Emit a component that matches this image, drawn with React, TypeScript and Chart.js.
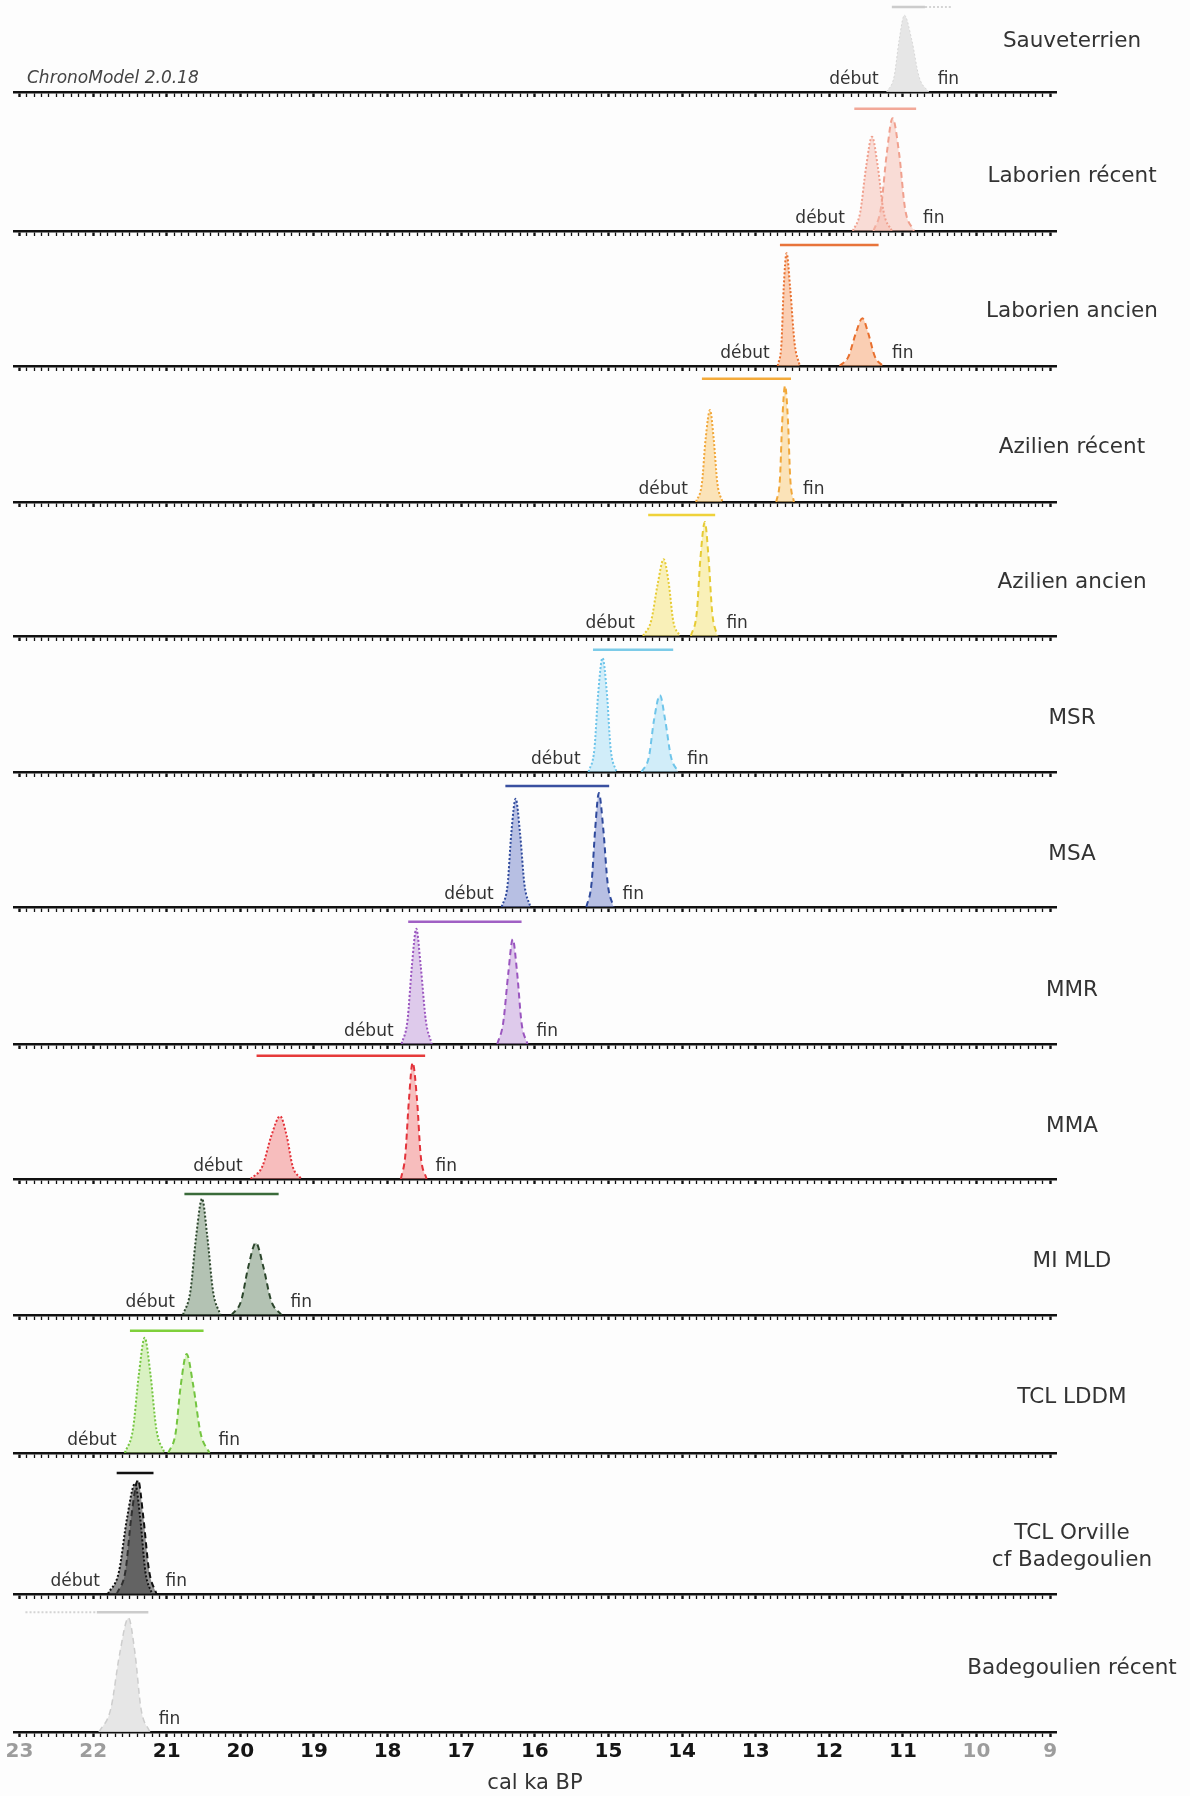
import React, { useEffect, useRef } from 'react';
import { Chart, registerables } from 'chart.js';

Chart.register(...registerables);
Chart.defaults.font.family = '"DejaVu Sans", sans-serif';

type Pt = [number, number];

// ---------- DATA ----------
const phaseNames: string[][] = [
  ['Sauveterrien'],
  ['Laborien récent'],
  ['Laborien ancien'],
  ['Azilien récent'],
  ['Azilien ancien'],
  ['MSR'],
  ['MSA'],
  ['MMR'],
  ['MMA'],
  ['MI MLD'],
  ['TCL LDDM'],
  ['TCL Orville', 'cf Badegoulien'],
  ['Badegoulien récent'],
];

// density of the "début" (start) of each phase: [cal ka BP, relative density]
const debutCurves: (Pt[] | null)[] = [
  [[11.22, 0], [11.12, 0.13], [11.05, 0.45], [10.98, 0.66], [10.88, 0.45], [10.78, 0.13], [10.65, 0]],
  [[11.68, 0], [11.58, 0.16], [11.5, 0.55], [11.42, 0.81], [11.34, 0.55], [11.26, 0.16], [11.15, 0]],
  [[12.7, 0], [12.65, 0.19], [12.62, 0.66], [12.58, 0.97], [12.53, 0.66], [12.47, 0.19], [12.4, 0]],
  [[13.81, 0], [13.73, 0.16], [13.68, 0.54], [13.62, 0.79], [13.57, 0.54], [13.52, 0.16], [13.45, 0]],
  [[14.53, 0], [14.42, 0.13], [14.33, 0.45], [14.25, 0.66], [14.18, 0.45], [14.12, 0.13], [14.03, 0]],
  [[15.27, 0], [15.19, 0.2], [15.14, 0.67], [15.08, 0.98], [15.02, 0.67], [14.97, 0.2], [14.89, 0]],
  [[16.45, 0], [16.37, 0.19], [16.32, 0.63], [16.26, 0.93], [16.2, 0.63], [16.14, 0.19], [16.06, 0]],
  [[17.81, 0], [17.73, 0.2], [17.67, 0.67], [17.61, 0.99], [17.55, 0.67], [17.48, 0.2], [17.4, 0]],
  [[19.86, 0], [19.7, 0.11], [19.58, 0.37], [19.46, 0.54], [19.37, 0.37], [19.29, 0.11], [19.17, 0]],
  [[20.78, 0], [20.68, 0.2], [20.6, 0.68], [20.52, 1.0], [20.45, 0.68], [20.37, 0.2], [20.27, 0]],
  [[21.57, 0], [21.46, 0.2], [21.38, 0.67], [21.3, 0.99], [21.22, 0.67], [21.14, 0.2], [21.03, 0]],
  [[21.8, 0], [21.65, 0.19], [21.54, 0.65], [21.43, 0.95], [21.36, 0.65], [21.29, 0.19], [21.2, 0]],
  null,
];

// density of the "fin" (end) of each phase
const finCurves: (Pt[] | null)[] = [
  null,
  [[11.4, 0], [11.3, 0.19], [11.22, 0.66], [11.14, 0.97], [11.05, 0.66], [10.97, 0.19], [10.85, 0]],
  [[11.86, 0], [11.74, 0.08], [11.64, 0.28], [11.55, 0.41], [11.47, 0.28], [11.38, 0.08], [11.27, 0]],
  [[12.72, 0], [12.67, 0.2], [12.64, 0.68], [12.6, 1.0], [12.56, 0.68], [12.53, 0.2], [12.48, 0]],
  [[13.88, 0], [13.8, 0.2], [13.75, 0.67], [13.69, 0.98], [13.64, 0.67], [13.59, 0.2], [13.52, 0]],
  [[14.55, 0], [14.45, 0.13], [14.38, 0.45], [14.3, 0.66], [14.23, 0.45], [14.15, 0.13], [14.05, 0]],
  [[15.3, 0], [15.23, 0.2], [15.18, 0.67], [15.13, 0.98], [15.07, 0.67], [15.01, 0.2], [14.93, 0]],
  [[16.51, 0], [16.43, 0.18], [16.36, 0.61], [16.3, 0.9], [16.24, 0.61], [16.18, 0.18], [16.1, 0]],
  [[17.82, 0], [17.76, 0.2], [17.71, 0.68], [17.66, 1.0], [17.6, 0.68], [17.55, 0.2], [17.47, 0]],
  [[20.12, 0], [19.99, 0.12], [19.89, 0.42], [19.79, 0.62], [19.69, 0.42], [19.58, 0.12], [19.44, 0]],
  [[20.98, 0], [20.88, 0.17], [20.81, 0.58], [20.73, 0.85], [20.64, 0.58], [20.54, 0.17], [20.42, 0]],
  [[21.68, 0], [21.56, 0.2], [21.48, 0.67], [21.39, 0.98], [21.32, 0.67], [21.24, 0.2], [21.14, 0]],
  [[21.92, 0], [21.76, 0.2], [21.64, 0.67], [21.52, 0.98], [21.43, 0.67], [21.35, 0.2], [21.23, 0]],
];

// phase duration bar (solid part)
const barFrom = [11.15, 11.66, 12.67, 13.73, 14.46, 15.21, 16.4, 17.72, 19.78, 20.76, 21.5, 21.68, 21.95];
const barTo = [10.7, 10.82, 11.33, 12.52, 13.55, 14.12, 14.99, 16.18, 17.49, 19.48, 20.5, 21.18, 21.25];
const barLevel = [0.73, 1.05, 1.04, 1.06, 1.04, 1.05, 1.04, 1.05, 1.06, 1.04, 1.05, 1.04, 1.03];
// dotted extension of the bar (context phases)
const barDotFrom: (number | null)[] = [10.7, null, null, null, null, null, null, null, null, null, null, null, 22.92];
const barDotTo: (number | null)[] = [10.32, null, null, null, null, null, null, null, null, null, null, null, 21.95];

const showDebutLabel = [true, true, true, true, true, true, true, true, true, true, true, true, false];

const tickLabelValues = [23, 22, 21, 20, 19, 18, 17, 16, 15, 14, 13, 12, 11, 10, 9];
const greyTickLabels = [23, 22, 10, 9];
const axisTitle = 'cal ka BP';
const softwareLabel = 'ChronoModel 2.0.18';

// ---------- STYLES / LAYOUT ----------
const lineColors = ['#d6d6d6', '#f0a08e', '#e8702f', '#f1a73a', '#e6cb34', '#6fc5ea', '#2f4a9c', '#9a55bf', '#e3323a', '#2c462c', '#74c540', '#111111', '#cdcdcd'];
const fillColors = [
  'rgba(226,226,226,0.85)',
  'rgba(246,188,176,0.5)',
  'rgba(247,168,118,0.55)',
  'rgba(250,205,128,0.55)',
  'rgba(246,230,128,0.55)',
  'rgba(165,222,245,0.5)',
  'rgba(125,140,205,0.55)',
  'rgba(192,152,218,0.5)',
  'rgba(242,125,125,0.5)',
  'rgba(105,135,105,0.5)',
  'rgba(172,226,122,0.45)',
  'rgba(70,70,70,0.6)',
  'rgba(226,226,226,0.85)',
];
const barColors = ['#cccccc', '#f2a898', '#e8743b', '#f3aa3a', '#efd23a', '#7ccbe8', '#3a50a0', '#a060c4', '#e63a3a', '#3a6b3a', '#7fd03a', '#111111', '#cccccc'];

const axisY = [92, 231, 366, 502, 636, 772, 907, 1044, 1179, 1315, 1453, 1594, 1732];
const titleDy = [-51, -55, -55, -55, -54, -54, -53, -54, -53, -54, -56, -47, -64];
const PLOT_H = 128;
const Y_MAX = 1.1;
const X_MIN = 8.92;
const X_MAX = 23.075;

function Row({ index }: { index: number }) {
  const ref = useRef<HTMLCanvasElement | null>(null);
  const isLast = index === phaseNames.length - 1;
  const axisH = isLast ? 64 : 8;
  const canvasH = PLOT_H + axisH;

  useEffect(() => {
    if (!ref.current) return;
    const datasets: any[] = [];
    const deb = debutCurves[index];
    const fin = finCurves[index];
    const grey = index === 0 || isLast;
    if (deb) {
      datasets.push({
        data: deb,
        borderColor: lineColors[index],
        backgroundColor: fillColors[index],
        borderWidth: grey ? 1 : 2,
        borderDash: [2, 2],
        fill: 'origin',
        pointRadius: 0,
        cubicInterpolationMode: 'monotone',
      });
    }
    if (fin) {
      datasets.push({
        data: fin,
        borderColor: lineColors[index],
        backgroundColor: fillColors[index],
        borderWidth: grey ? 1.5 : 2,
        borderDash: [6, 4],
        fill: 'origin',
        pointRadius: 0,
        cubicInterpolationMode: 'monotone',
      });
    }
    datasets.push({
      data: [[barFrom[index], barLevel[index]], [barTo[index], barLevel[index]]],
      borderColor: barColors[index],
      borderWidth: 2.5,
      pointRadius: 0,
      fill: false,
    });
    const df = barDotFrom[index];
    const dt = barDotTo[index];
    if (df !== null && dt !== null) {
      datasets.push({
        data: [[df, barLevel[index]], [dt, barLevel[index]]],
        borderColor: '#d4d4d4',
        borderWidth: 2,
        borderDash: [2, 2],
        pointRadius: 0,
        fill: false,
      });
    }

    const isInt = (v: number) => Math.abs(v - Math.round(v)) < 1e-6;

    const overlay = {
      id: 'overlay' + index,
      afterDatasetsDraw(chart: any) {
        const { ctx, chartArea, scales } = chart;
        const xs = scales.x;
        const base = chartArea.bottom;
        ctx.save();
        ctx.fillStyle = '#333333';
        ctx.font = '17px "DejaVu Sans"';
        ctx.textBaseline = 'alphabetic';
        const curves = [deb, fin].filter(Boolean) as Pt[][];
        const leftVal = Math.max(...curves.map((c) => c[0][0]));
        const rightVal = Math.min(...curves.map((c) => c[c.length - 1][0]));
        if (showDebutLabel[index]) {
          ctx.textAlign = 'right';
          ctx.fillText('début', xs.getPixelForValue(leftVal) - 8, base - 8);
        }
        ctx.textAlign = 'left';
        ctx.fillText('fin', xs.getPixelForValue(rightVal) + 9, base - 8);

        ctx.font = '21.5px "DejaVu Sans"';
        ctx.textAlign = 'center';
        ctx.textBaseline = 'middle';
        const lines = phaseNames[index];
        const cx = chartArea.right + 16;
        const cy = base + titleDy[index];
        lines.forEach((ln, k) => {
          ctx.fillText(ln, cx, cy + (k - (lines.length - 1) / 2) * 27);
        });

        if (index === 0) {
          ctx.font = 'italic 17px "DejaVu Sans"';
          ctx.fillStyle = '#444444';
          ctx.textAlign = 'left';
          ctx.textBaseline = 'alphabetic';
          ctx.fillText(softwareLabel, chartArea.left + 13, base - 9);
        }
        ctx.restore();
      },
    };

    const chart = new Chart(ref.current, {
      type: 'line',
      data: { datasets },
      plugins: [overlay],
      options: {
        animation: false,
        responsive: false,
        events: [],
        layout: { padding: { left: 14, right: 134, top: 0, bottom: 0 } },
        plugins: { legend: { display: false }, tooltip: { enabled: false }, title: { display: false } },
        elements: { line: { tension: 0.4 } },
        scales: {
          x: {
            type: 'linear',
            reverse: true,
            min: X_MIN,
            max: X_MAX,
            afterBuildTicks: (scale: any) => {
              const t: { value: number }[] = [];
              for (let k = 90; k <= 230; k++) t.push({ value: k / 10 });
              scale.ticks = t;
            },
            afterFit: (scale: any) => {
              scale.height = axisH;
            },
            border: { display: true, color: '#111111', width: 2.5 },
            grid: {
              display: true,
              drawOnChartArea: false,
              drawTicks: true,
              tickLength: 5,
              tickColor: '#111111',
              tickWidth: (ctx: any) => (ctx.tick && isInt(ctx.tick.value) ? 2.4 : 1.3),
            },
            ticks: {
              display: isLast,
              autoSkip: false,
              maxRotation: 0,
              minRotation: 0,
              padding: 3,
              font: { family: '"DejaVu Sans"', size: 20, weight: 'bold' },
              color: (ctx: any) => {
                const v = ctx.tick ? Math.round(ctx.tick.value) : 0;
                return greyTickLabels.includes(v) ? '#9c9c9c' : '#151515';
              },
              callback: (value: any) => {
                const v = Number(value);
                if (!isInt(v)) return '';
                const r = Math.round(v);
                return tickLabelValues.includes(r) ? String(r) : '';
              },
            },
            title: {
              display: isLast,
              text: axisTitle,
              color: '#333333',
              font: { family: '"DejaVu Sans"', size: 21 },
              padding: { top: 0, bottom: 0 },
            },
          },
          y: {
            type: 'linear',
            display: false,
            min: 0,
            max: Y_MAX,
          },
        },
      } as any,
    });
    return () => chart.destroy();
  }, [index]);

  return (
    <canvas
      ref={ref}
      width={1190}
      height={canvasH}
      style={{ position: 'absolute', left: 0, top: axisY[index] - PLOT_H, width: 1190, height: canvasH }}
    />
  );
}

export default function App() {
  return (
    <div
      style={{
        position: 'absolute',
        left: 0,
        top: 0,
        width: 1190,
        height: 1796,
        overflow: 'hidden',
        background: '#fdfdfd',
      }}
    >
      {phaseNames.map((_, i) => (
        <Row key={i} index={i} />
      ))}
    </div>
  );
}
